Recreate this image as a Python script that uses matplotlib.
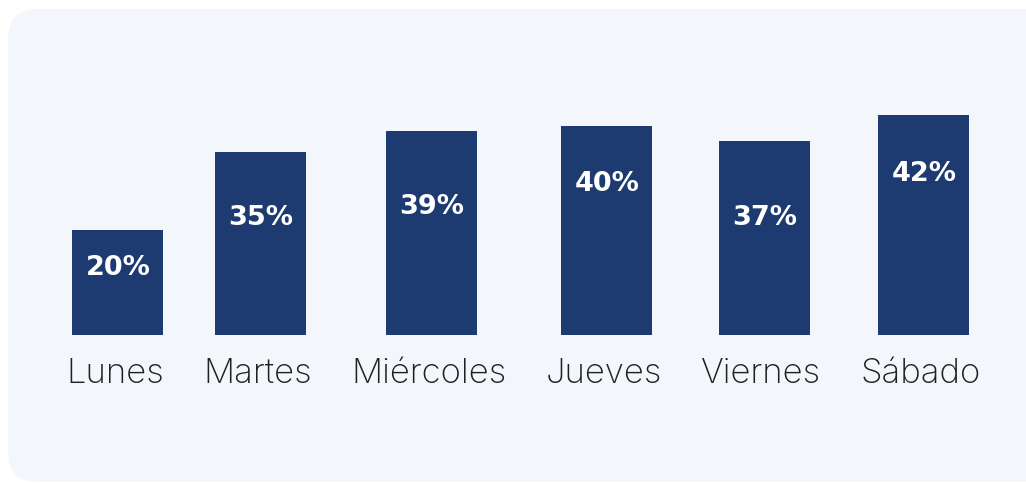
import matplotlib
matplotlib.use("Agg")
import matplotlib.pyplot as plt
from matplotlib.patches import FancyBboxPatch

# ---- data ----
categories = ["Lunes", "Martes", "Miércoles", "Jueves", "Viernes", "Sábado"]
values = [20, 35, 39, 40, 37, 42]
value_labels = ["20%", "35%", "39%", "40%", "37%", "42%"]

# ---- layout / style ----
label_drop_px = [38, 66, 76, 58, 77, 59]   # value-label distance below bar top (px)
W, H, DPI = 1026, 483, 100
BAR_COLOR = "#1d3b71"
BG_COLOR = "#f3f7fc"
TEXT_COLOR = "#231f20"
BASE_PX = 335          # baseline y (px from top)
PX_PER_UNIT = 5.23
BAR_W = 91
BAR_SHIFT = 3          # bars sit slightly right of their label centres (px)
LEFT_PX, RIGHT_PX = 66, 981

fig = plt.figure(figsize=(W / DPI, H / DPI), dpi=DPI)
fig.patch.set_facecolor("white")

bg = FancyBboxPatch((8, 1), W + 40, H - 10, boxstyle="round,pad=0,rounding_size=30",
                    transform=None, facecolor=BG_COLOR, edgecolor="none", zorder=-5)
fig.patches.append(bg)

ax = fig.add_axes([0, (H - BASE_PX) / H, 1, BASE_PX / H], zorder=2)
ax.set_xlim(0, W)
ax.set_ylim(0, BASE_PX / PX_PER_UNIT)
ax.axis("off")

# measure category label widths to lay out columns
renderer = fig.canvas.get_renderer()
texts = []
for c in categories:
    t = fig.text(0, 0, c, fontsize=25, color=TEXT_COLOR, family="Inter",
                 fontweight="light", ha="center", va="baseline")
    texts.append(t)
widths = [t.get_window_extent(renderer).width for t in texts]
gap = (RIGHT_PX - LEFT_PX - sum(widths)) / (len(widths) - 1)
centers = []
x = LEFT_PX
for w in widths:
    centers.append(x + w / 2)
    x += w + gap

for t, cx in zip(texts, centers):
    t.set_position((cx / W, (H - 383) / H))

bar_x = [c + BAR_SHIFT for c in centers]
ax.bar(bar_x, values, width=BAR_W, color=BAR_COLOR, zorder=2)
for cx, v, lab, d in zip(bar_x, values, value_labels, label_drop_px):
    ax.text(cx, v - d / PX_PER_UNIT, lab, ha="center", va="center", color="white",
            fontsize=19.5, fontweight="bold", family="DejaVu Sans", zorder=3)

fig.savefig("out.png", dpi=DPI)
